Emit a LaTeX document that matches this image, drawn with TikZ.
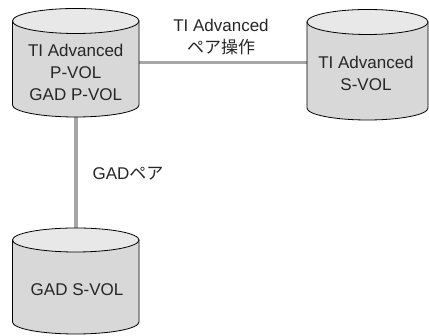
\documentclass[tikz,border=0pt]{standalone}
\usepackage{fontspec}
\setmainfont{Liberation Sans}
\newfontfamily\jpfont{Noto Sans CJK JP}
\begin{document}
\begin{tikzpicture}[x=1pt,y=1pt,
  cylbody/.style={draw=black, line width=0.8pt, fill=cylgray},
  cyltop/.style={draw=black, line width=0.8pt, fill=cyllight},
  cylbox/.style={inner sep=0pt, draw=none},
  link/.style={draw=linkgray, line width=3.6pt},
  lbl/.style={font=\fontsize{17}{22}\selectfont, align=center, inner sep=0pt, text=black!85}
]
\definecolor{cylgray}{HTML}{D8D8D8}
\definecolor{cyllight}{HTML}{E8E8E8}
\definecolor{linkgray}{HTML}{A6A6A6}
\useasboundingbox (0,0) rectangle (429,336);
% invisible frames of the three volumes
\node[cylbox, minimum width=126.5pt, minimum height=109pt] (pv) at (75.75,273.5) {};
\node[cylbox, minimum width=121pt, minimum height=111pt] (sv) at (367.5,271.5) {};
\node[cylbox, minimum width=126.5pt, minimum height=106pt] (gs) at (75.75,55) {};
% connectors
\draw[link] (pv.east) -- (pv.east -| sv.west);
\draw[link] (pv.south) -- (gs.north);
% cylinder P-VOL
\path[cylbody] (12.5,315) -- (12.5,231) arc[start angle=180, end angle=360, x radius=63.25pt, y radius=12pt] -- (139,315) -- cycle;
\path[cyltop] (75.75,315) ellipse[x radius=63.25pt, y radius=12.5pt];
% cylinder S-VOL
\path[cylbody] (307,314) -- (307,228) arc[start angle=180, end angle=360, x radius=60.5pt, y radius=12pt] -- (428,314) -- cycle;
\path[cyltop] (367.5,314) ellipse[x radius=60.5pt, y radius=12.5pt];
% cylinder GAD S-VOL
\path[cylbody] (12.5,96) -- (12.5,14) arc[start angle=180, end angle=360, x radius=63.25pt, y radius=12pt] -- (139,96) -- cycle;
\path[cyltop] (75.75,96) ellipse[x radius=63.25pt, y radius=12pt];
% texts
\node[lbl] (pvt) at (75.75,264) {TI Advanced\\P-VOL\\GAD P-VOL};
\node[lbl] (svt) at (366,262.5) {TI Advanced\\S-VOL};
\node[lbl] (gst) at (77,46) {GAD S-VOL};
\node[lbl] (lta) at (221,299) {TI Advanced\\{\jpfont ペア操作}};
\node[lbl] (lgad) at (128,162) {GAD{\jpfont ペア}};
\end{tikzpicture}
\end{document}
